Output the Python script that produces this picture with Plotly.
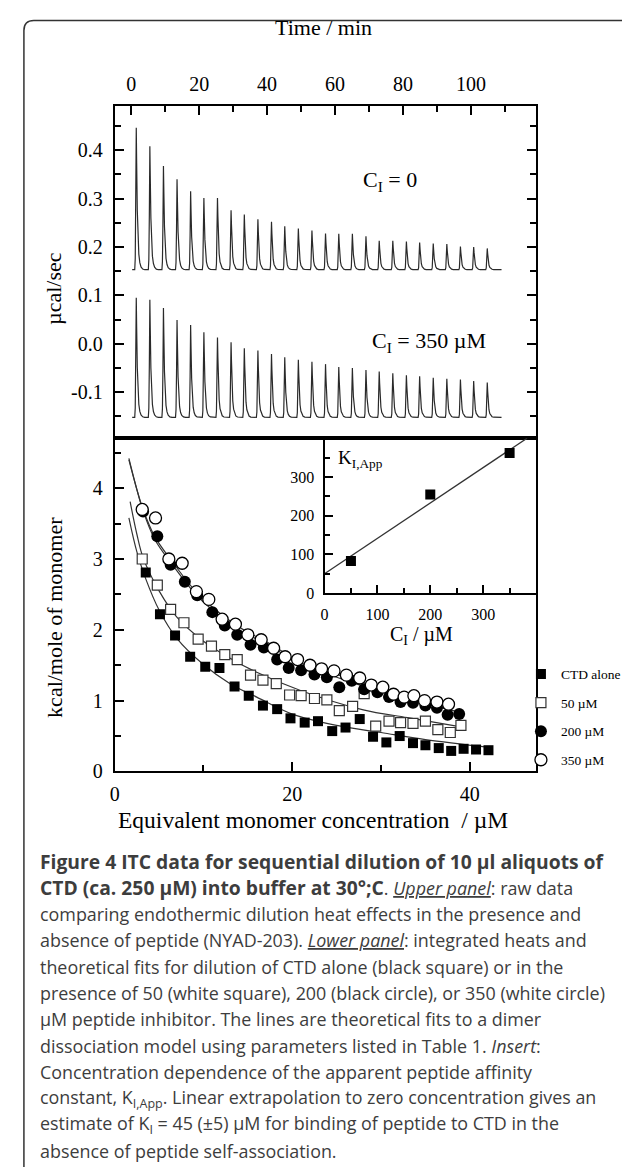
import plotly.graph_objects as go

W, H = 630, 1170

def px(p):
    return p / W

def py(p):
    return 1 - p / H

# ---------------- Upper panel: raw ITC thermograms ----------------
inj_time = [1.5, 5.5, 9.5, 13.5, 17.5, 21.4, 25.4, 29.4, 33.3, 37.3, 41.3, 45.2, 49.2,
            53.2, 57.2, 61.1, 65.1, 69.1, 73.0, 77.0, 81.0, 84.9, 88.9, 92.9, 96.9,
            100.8, 104.8]
peak_c0 = [0.446, 0.408, 0.367, 0.340, 0.315, 0.301, 0.301, 0.276, 0.267, 0.257, 0.252,
           0.243, 0.238, 0.234, 0.228, 0.227, 0.227, 0.222, 0.213, 0.213, 0.211, 0.209,
           0.207, 0.206, 0.201, 0.200, 0.197]
base_c0 = 0.153
peak_c350 = [0.095, 0.091, 0.074, 0.049, 0.039, 0.024, 0.013, 0.003, -0.009, -0.014,
             -0.021, -0.028, -0.033, -0.037, -0.042, -0.048, -0.050, -0.054, -0.057,
             -0.061, -0.065, -0.067, -0.070, -0.072, -0.074, -0.077, -0.080]
base_c350 = -0.152
trace_span = [0.3, 109.0]

# peak profile template (style of each injection peak)
PEAK_OFF = [-0.45, -0.3, -0.15, 0.0, 0.12, 0.3, 0.5, 0.75, 1.05, 1.4, 1.9, 2.5]
PEAK_FRAC = [0.0, 0.08, 0.45, 1.0, 0.75, 0.42, 0.22, 0.11, 0.05, 0.02, 0.005, 0.0]


def thermogram(times, peaks, base):
    xs, ys = [trace_span[0]], [base]
    for t, p in zip(times, peaks):
        for o, f in zip(PEAK_OFF, PEAK_FRAC):
            xs.append(t + o)
            ys.append(base + f * (p - base))
    xs.append(trace_span[1])
    ys.append(base)
    return xs, ys

# ---------------- Lower panel: integrated heats ----------------
ctd_x = [3.5, 5.1, 6.8, 8.5, 10.2, 11.8, 13.5, 15.1, 16.7, 18.3, 19.8, 21.4, 22.9, 24.5,
         26.0, 27.6, 29.1, 30.6, 32.1, 33.6, 35.0, 36.5, 37.9, 39.3, 40.7, 42.1]
ctd_y = [2.81, 2.22, 1.92, 1.62, 1.48, 1.46, 1.20, 1.07, 0.93, 0.88, 0.75, 0.69, 0.71,
         0.57, 0.62, 0.74, 0.49, 0.41, 0.50, 0.40, 0.37, 0.33, 0.29, 0.32, 0.31, 0.30]

p50_x = [3.1, 4.8, 6.3, 7.8, 9.4, 10.9, 12.4, 13.8, 15.3, 16.7, 18.2, 19.7, 21.0, 22.5,
         23.9, 25.3, 26.8, 28.1, 29.4, 30.9, 32.2, 33.6, 35.0, 36.4, 37.8, 39.0]
p50_y = [3.00, 2.63, 2.29, 2.10, 1.87, 1.77, 1.65, 1.58, 1.36, 1.29, 1.24, 1.08, 1.07,
         1.03, 1.01, 0.86, 0.92, 1.10, 0.64, 0.71, 0.69, 0.68, 0.71, 0.59, 0.55, 0.65]

p200_x = [3.2, 4.8, 6.3, 7.9, 9.3, 11.0, 12.4, 13.8, 15.3, 16.8, 18.3, 19.6, 21.0, 22.5,
          23.9, 25.3, 26.7, 28.1, 29.6, 30.9, 32.2, 33.6, 35.0, 36.3, 37.5, 38.8]
p200_y = [3.67, 3.32, 2.92, 2.68, 2.49, 2.25, 2.06, 1.93, 1.79, 1.75, 1.58, 1.46, 1.43,
          1.37, 1.33, 1.19, 1.28, 1.16, 1.12, 1.05, 0.98, 0.97, 0.93, 0.90, 0.80, 0.81]

p350_x = [3.1, 4.6, 6.1, 7.6, 9.2, 10.6, 12.1, 13.6, 15.0, 16.5, 17.9, 19.2, 20.6, 22.0,
          23.3, 24.7, 26.1, 27.6, 28.9, 30.2, 31.4, 32.6, 33.7, 34.9, 36.3, 37.6]
p350_y = [3.70, 3.58, 3.00, 2.94, 2.54, 2.43, 2.15, 2.08, 1.93, 1.86, 1.74, 1.62, 1.58,
          1.50, 1.45, 1.42, 1.36, 1.32, 1.22, 1.19, 1.09, 1.05, 1.07, 1.00, 0.98, 0.95]

# theoretical fits
fit_ctd_x = [1.6, 2.5, 3.5, 5, 7, 10, 13, 16, 20, 25, 30, 35, 42.2]
fit_ctd_y = [3.58, 3.10, 2.72, 2.28, 1.88, 1.51, 1.24, 1.05, 0.81, 0.65, 0.55, 0.45, 0.34]
fit_50_x = [1.74, 2.5, 3.2, 5, 7, 10, 13, 16, 21, 28, 33, 39]
fit_50_y = [3.81, 3.35, 3.02, 2.55, 2.18, 1.84, 1.60, 1.40, 1.14, 0.87, 0.76, 0.63]
fit_200_x = [1.6, 2.5, 3.2, 4.5, 6.5, 9, 11, 14, 17.7, 21, 25, 28.1, 33.3, 38.8]
fit_200_y = [4.42, 3.98, 3.68, 3.28, 2.92, 2.52, 2.28, 2.00, 1.76, 1.49, 1.33, 1.20, 1.01, 0.84]
fit_350_x = [1.6, 2.5, 3.2, 4.5, 6.5, 9, 11, 14, 17.7, 21, 25, 28.1, 33.3, 37.6]
fit_350_y = [4.40, 3.98, 3.70, 3.32, 2.96, 2.56, 2.32, 2.04, 1.79, 1.53, 1.37, 1.25, 1.06, 0.95]

# ---------------- Inset: apparent affinity ----------------
ins_c = [50, 200, 350]
ins_k = [83, 255, 362]
ins_fit_c = [0, 383]
ins_fit_k = [50, 400]

# ---------------- Text ----------------
legend_names = ["CTD alone", "50 µM", "200 µM", "350 µM"]
BOLD = '<span style="font-size:19.3px"><b>{}</b></span>'
caption_lines = [
    BOLD.format("Figure 4 ITC data for sequential dilution of 10 µl aliquots of"),
    BOLD.format("CTD (ca. 250 µM) into buffer at 30°;C")
    + ". <u><i>Upper panel</i></u>: raw data",
    "comparing endothermic dilution heat effects in the presence and",
    "absence of peptide (NYAD-203). <u><i>Lower panel</i></u>: integrated heats and",
    "theoretical fits for dilution of CTD alone (black square) or in the",
    "presence of 50 (white square), 200 (black circle), or 350 (white circle)",
    "µM peptide inhibitor. The lines are theoretical fits to a dimer",
    "dissociation model using parameters listed in Table 1. <i>Insert</i>:",
    "Concentration dependence of the apparent peptide affinity",
    "constant, K<sub>I,App</sub>. Linear extrapolation to zero concentration gives an",
    "estimate of K<sub>I</sub> = 45 (±5) µM for binding of peptide to CTD in the",
    "absence of peptide self-association.",
]

SERIF = "Liberation Serif"
fig = go.Figure()

for peaks, base in [(peak_c0, base_c0), (peak_c350, base_c350)]:
    tx, ty = thermogram(inj_time, peaks, base)
    fig.add_trace(go.Scatter(x=tx, y=ty, mode="lines", xaxis="x", yaxis="y",
                             line=dict(color="#2a2a2a", width=1.2), showlegend=False,
                             hoverinfo="skip"))

for fx, fy in [(fit_ctd_x, fit_ctd_y), (fit_50_x, fit_50_y), (fit_200_x, fit_200_y),
               (fit_350_x, fit_350_y)]:
    fig.add_trace(go.Scatter(x=fx, y=fy, mode="lines", xaxis="x2", yaxis="y2",
                             line=dict(color="#333333", width=1.2, shape="spline",
                                       smoothing=1.0),
                             showlegend=False, hoverinfo="skip"))

series = [
    (ctd_x, ctd_y, dict(symbol="square", size=10, color="black",
                        line=dict(color="black", width=0))),
    (p50_x, p50_y, dict(symbol="square", size=10, color="white",
                        line=dict(color="#333333", width=1.2))),
    (p200_x, p200_y, dict(symbol="circle", size=12, color="black",
                          line=dict(color="black", width=0))),
    (p350_x, p350_y, dict(symbol="circle", size=12, color="white",
                          line=dict(color="black", width=1.3))),
]
for i, (sx, sy, mk) in enumerate(series):
    fig.add_trace(go.Scatter(x=sx, y=sy, mode="markers", xaxis="x2", yaxis="y2",
                             marker=mk, name=legend_names[i], legendgroup=f"g{i}",
                             showlegend=True))

fig.add_trace(go.Scatter(x=ins_fit_c, y=ins_fit_k, mode="lines", xaxis="x3", yaxis="y3",
                         line=dict(color="#333333", width=1.3), showlegend=False))
fig.add_trace(go.Scatter(x=ins_c, y=ins_k, mode="markers", xaxis="x3", yaxis="y3",
                         marker=dict(symbol="square", size=10, color="black"),
                         showlegend=False))

XD = [px(102.5), px(526.7)]
tickfont = dict(family=SERIF, size=20, color="black")
insfont = dict(family=SERIF, size=16, color="black")
common = dict(showline=True, linewidth=2, linecolor="black", ticks="inside",
              tickwidth=2, tickcolor="black", showgrid=False, zeroline=False,
              fixedrange=True)
MIN = dict(ticks="inside", tickwidth=2, tickcolor="black")

fig.update_layout(
    width=W, height=H, margin=dict(l=0, r=0, t=0, b=0),
    paper_bgcolor="white", plot_bgcolor="rgba(0,0,0,0)",
    font=dict(family=SERIF, size=17, color="black"),
    xaxis=dict(domain=XD, anchor="y", side="top", range=[-4.85, 119.0],
               tickvals=[0, 20, 40, 60, 80, 100], ticklen=9, mirror=True,
               minor=dict(tickvals=[10, 30, 50, 70, 90, 110], ticklen=6, **MIN),
               ticklabelstandoff=5, tickfont=tickfont, **common),
    yaxis=dict(domain=[py(434.3), py(99)], anchor="x", range=[-0.195, 0.491],
               tickvals=[-0.1, 0, 0.1, 0.2, 0.3, 0.4],
               ticktext=["-0.1", "0.0", "0.1", "0.2", "0.3", "0.4"], ticklen=9,
               mirror="ticks",
               minor=dict(tickvals=[-0.15, -0.05, 0.05, 0.15, 0.25, 0.35, 0.45],
                          ticklen=6, **MIN),
               ticklabelstandoff=6, tickfont=tickfont, **common),
    xaxis2=dict(domain=XD, anchor="y2", range=[0, 47.4], tickvals=[0, 20, 40],
                ticklen=9, mirror=True,
                minor=dict(tickvals=[10, 30], ticklen=6, **MIN),
                ticklabelstandoff=4, tickfont=tickfont, **common),
    yaxis2=dict(domain=[py(770.7), py(434.3)], anchor="x2", range=[0, 4.706],
                tickvals=[0, 1, 2, 3, 4], ticklen=9, mirror=True,
                minor=dict(tickvals=[0.5, 1.5, 2.5, 3.5, 4.5], ticklen=6, **MIN),
                ticklabelstandoff=6, tickfont=tickfont, **common),
    xaxis3=dict(domain=[px(314), px(526.7)], anchor="y3", range=[0, 399],
                tickvals=[0, 100, 200, 300], ticklen=8,
                minor=dict(tickvals=[50, 150, 250, 350], ticklen=5, **MIN),
                ticklabelstandoff=6, tickfont=insfont, **common),
    yaxis3=dict(domain=[py(590.7), py(434.3)], anchor="x3", range=[0, 400],
                tickvals=[0, 100, 200, 300], ticklen=8,
                minor=dict(tickvals=[50, 150, 250, 350], ticklen=5, **MIN),
                ticklabelstandoff=5, tickfont=insfont, **common),
    showlegend=True,
    legend=dict(x=px(512), y=py(657), xanchor="left", yanchor="top",
                font=dict(family=SERIF, size=13.5, color="black"),
                bgcolor="rgba(0,0,0,0)", traceorder="grouped", tracegroupgap=8,
                itemwidth=30),
)

ann = []


def add_text(text, x, y, size, xanchor="center", textangle=0, family=SERIF,
             color="black"):
    ann.append(dict(text=text, x=px(x), y=py(y), xref="paper", yref="paper",
                    xanchor=xanchor, yanchor="middle", showarrow=False,
                    textangle=textangle,
                    font=dict(family=family, size=size, color=color)))


add_text("Time / min", 313, 20, 22)
add_text("µcal/sec", 41, 283, 22, textangle=-90)
add_text("kcal/mole of monomer", 42, 615, 22, textangle=-90)
add_text("Equivalent monomer concentration  / µM", 302, 820, 23.5)
add_text("C<sub>I</sub> = 0", 380, 175, 22)
add_text("C<sub>I</sub> = 350 µM", 419, 337, 22)
add_text("K<sub>I,App</sub>", 326, 455, 19, xanchor="left")
add_text("C<sub>I</sub> / µM", 411.7, 633, 20)

for k, line in enumerate(caption_lines):
    add_text(line, 25, 861.7 + 26.55 * k, 17.9, xanchor="left", family="Open Sans",
             color="#3d3d3d")

fig.update_layout(annotations=ann)

# card border (top-left rounded frame)
r = 10
x0, y0, x1 = 11, 12.7, 625
path = (f"M {px(x0)},{py(1170)} L {px(x0)},{py(y0 + r)} "
        f"Q {px(x0)},{py(y0)} {px(x0 + r)},{py(y0)} "
        f"L {px(x1 - 4)},{py(y0)} Q {px(x1)},{py(y0)} {px(x1)},{py(y0 + 4)}")
fig.add_shape(type="path", path=path, xref="paper", yref="paper",
              line=dict(color="#333333", width=1.5))

fig.write_html("out.html")
